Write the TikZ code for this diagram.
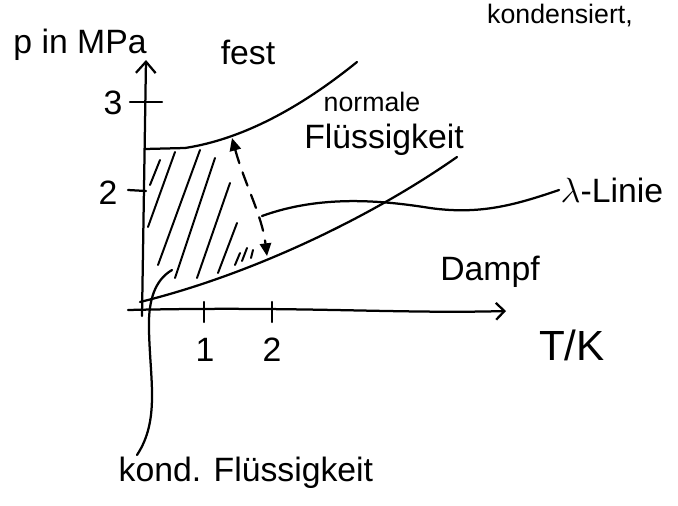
\documentclass[tikz,border=0pt]{standalone}
\usepackage{fontspec}
\setmainfont{Liberation Sans}
\usetikzlibrary{arrows.meta}

\begin{document}
\begin{tikzpicture}[x=0.025cm, y=-0.025cm,
    pen/.style={line width=1.6pt, line cap=round, line join=round},
    hatch/.style={line width=1.4pt, line cap=round},
    lbl/.style={inner sep=1pt, font=\fontsize{24}{28}\selectfont},
    small lbl/.style={inner sep=1pt, font=\fontsize{19}{22}\selectfont}]
    \useasboundingbox (0,0) rectangle (678,506);
    \clip (0,0) rectangle (678,506);

    % Labels
    \node[lbl] (p)      at (80,45)   {p in MPa};
    \node[lbl] (fest)   at (248,52)  {fest};
    \node[small lbl] (normale) at (372,102) {normale};
    \node[lbl] (fl)     at (384,140) {Flüssigkeit};
    \node[lbl] (dampf)  at (490,272) {Dampf};
    \node[lbl, font=\fontsize{30}{34}\selectfont] (tk) at (572,345) {T/K};
    \node[lbl] (lam)    at (612,190) {$\lambda$-Linie};
    \node[lbl, anchor=north west] (kond) at (117,455) {kond. Flüssigkeit};
    \node[small lbl, anchor=north] (top) at (560,2) {kondensiert,};

    % Axes
    \draw[pen, -{Straight Barb[length=8pt,width=14pt]}] (142,316) -- (146,60);
    \draw[pen, -{Straight Barb[length=6pt,width=12pt]}] (128,310) .. controls (300,306) and (400,314) .. (506,311);

    % Ticks
    \draw[pen] (130,102) -- (162,102);
    \draw[pen] (128,190) -- (146,191);
    \draw[pen] (204,302) -- (204,322);
    \draw[pen] (272,302) -- (272,322);
    \node[lbl] (ty3) at (113,103) {3};
    \node[lbl] (ty2) at (108,193) {2};
    \node[lbl] (tx1) at (205,350) {1};
    \node[lbl] (tx2) at (272,350) {2};

    % Phase boundaries
    \draw[pen] (145,149) -- (185,148) .. controls (250,138) and (310,100) .. (357,62);
    \draw[pen] (140,302) .. controls (250,275) and (370,218) .. (457,157);

    % Hatching
    \draw[hatch] (150,185) -- (160,160);
    \draw[hatch] (148,227) -- (175,152);
    \draw[hatch] (158,265) -- (200,150);
    \draw[hatch] (175,278) -- (215,158);
    \draw[hatch] (197,278) -- (230,183);
    \draw[hatch] (218,273) -- (237,223);
    \draw[hatch] (235,265) -- (240,253);
    \draw[hatch] (242,261) -- (247,248);
    \draw[hatch] (251,258) -- (253,250);

    % Transition between the boundaries
    \draw[pen, dash pattern=on 10pt off 7pt, {Triangle[length=9pt,width=8pt]}-{Triangle[length=9pt,width=8pt]}]
        (232,138) .. controls (245,185) and (262,215) .. (267,256);

    % lambda line
    \coordinate (lamstart) at (262,216);
    \draw[pen] (lamstart) .. controls (320,195) and (380,200) .. (430,208)
        .. controls (480,215) and (515,205) .. (lam.west);

    % leader to kond. Fluessigkeit
    \coordinate (kondstart) at (172,270);
    \draw[pen] (kondstart) .. controls (155,280) and (148,300) .. (149,330)
        .. controls (150,380) and (160,420) .. ([xshift=0.5cm]kond.north west);
\end{tikzpicture}
\end{document}
